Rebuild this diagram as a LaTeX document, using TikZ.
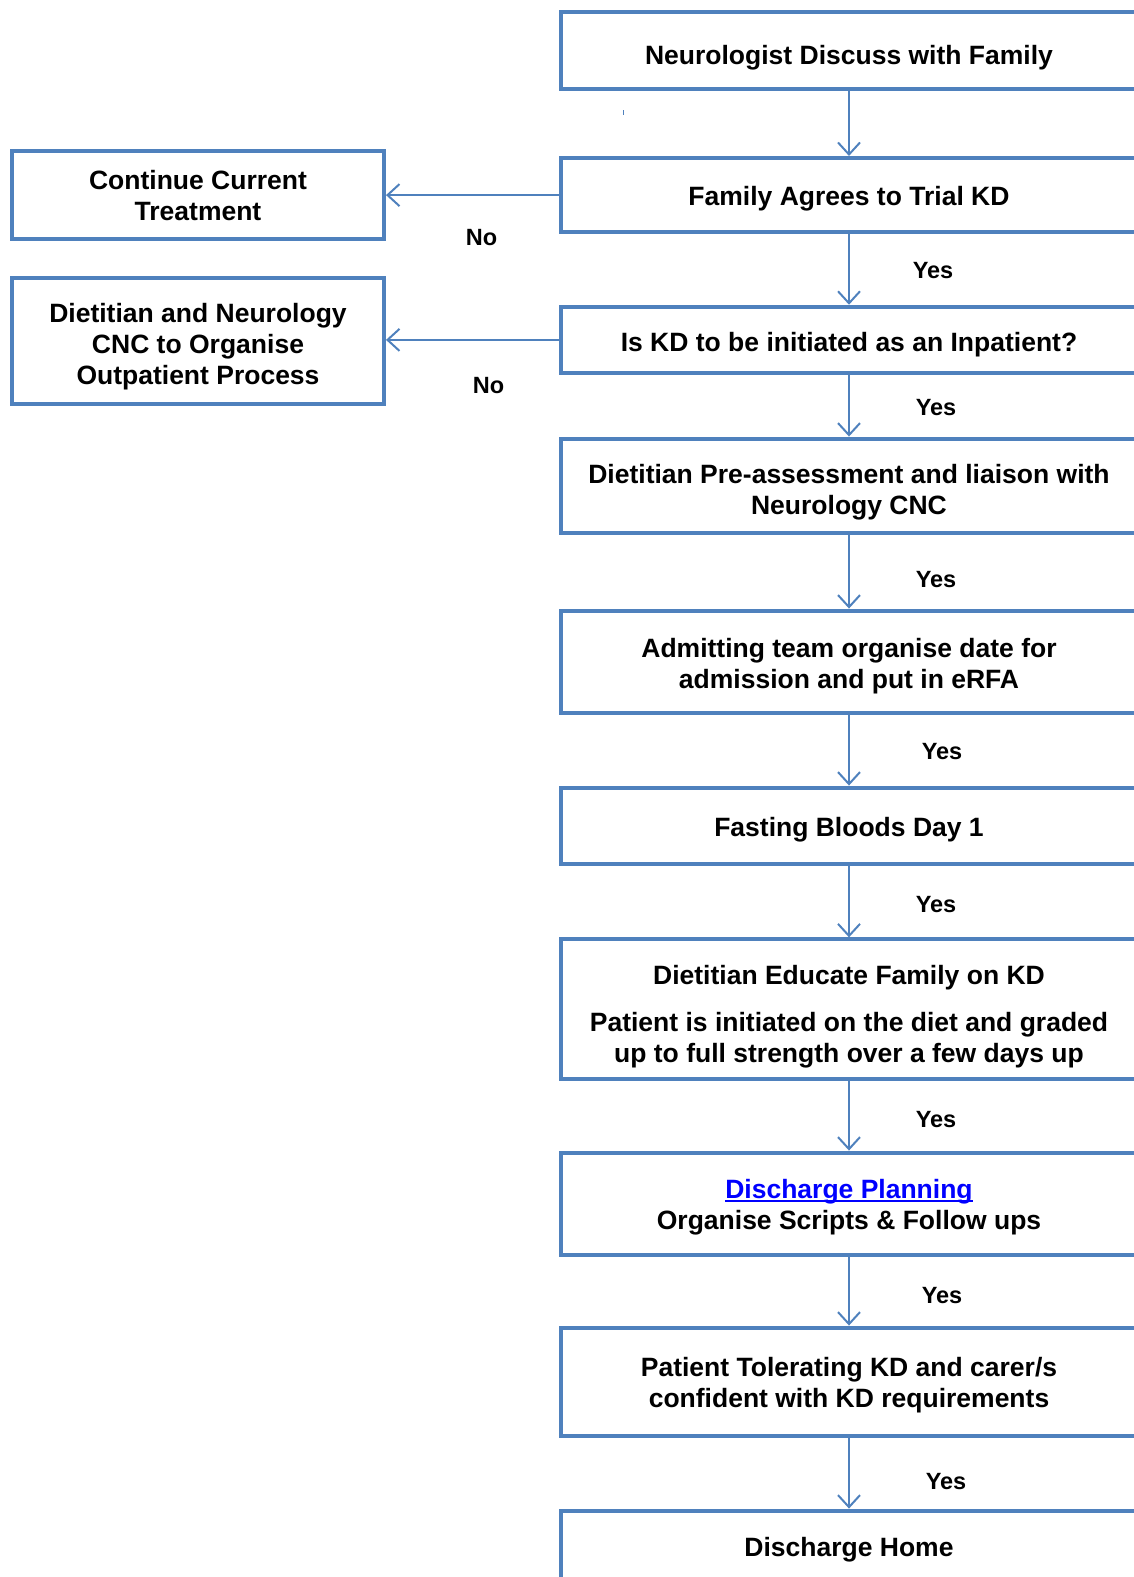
\documentclass[tikz,border=0pt]{standalone}
\usepackage{fontspec}
\setmainfont{Liberation Sans}
\usepackage{xcolor}
\definecolor{kBlue}{HTML}{4F81BD}
\definecolor{kLink}{HTML}{0000FF}
\usetikzlibrary{arrows.meta, positioning}
\newcommand{\linkul}[1]{\setbox0\hbox{#1}\rlap{\rule[-3.5pt]{\wd0}{1.8pt}}\box0}
\newcommand{\kdstrut}[1]{\rule{0pt}{#1}}

\begin{document}
\begin{tikzpicture}[
  x=1pt, y=-1pt,
  every node/.style={font=\fontsize{26.5}{31}\selectfont\bfseries},
  stagebox/.style={rectangle, draw=kBlue, line width=4pt, minimum width=576pt,
                   align=center, inner sep=0pt},
  sidebox/.style={rectangle, draw=kBlue, line width=4pt, minimum width=372pt,
                  align=center, inner sep=0pt},
  arr/.style={draw=kBlue, line width=2pt, -{Straight Barb[length=12pt, width=22pt]}},
  lbl/.style={font=\fontsize{23.5}{28}\selectfont\bfseries}
]
\useasboundingbox (0,0) rectangle (1133,1577);

% main column
\node[stagebox, minimum height=76.5pt, text height=34.6pt, text depth=5.6pt]
  (neuro) at (849,50.25) {Neurologist Discuss with Family};
\node[stagebox, minimum height=74.3pt, text height=27.3pt, text depth=5.6pt]
  (fam) at (849,195.1) {Family Agrees to Trial KD};
\node[stagebox, minimum height=66.3pt, text height=29.3pt, text depth=5.6pt]
  (inpt) at (849,339.9) {Is KD to be initiated as an Inpatient?};
\node[stagebox, minimum height=94.5pt] (pre) at (849,485.8)
  {\kdstrut{31.3pt}Dietitian Pre-assessment and liaison with\\ Neurology CNC};
\node[stagebox, minimum height=102.5pt] (adm) at (849,661.8)
  {\kdstrut{27.3pt}Admitting team organise date for\\ admission and put in eRFA};
\node[stagebox, minimum height=76.5pt, text height=27.3pt, text depth=5.6pt]
  (fast) at (849,825.8) {Fasting Bloods Day 1};
\node[stagebox, minimum height=139.7pt] (edu) at (849,1009.2)
  {\kdstrut{33.3pt}Dietitian Educate Family on KD\\[16pt]
   Patient is initiated on the diet and graded\\ up to full strength over a few days up};
\node[stagebox, minimum height=102.5pt] (plan) at (849,1203.8)
  {\kdstrut{25.3pt}\textcolor{kLink}{\linkul{Discharge Planning}}\\ Organise Scripts \& Follow ups};
\node[stagebox, minimum height=108.5pt] (tol) at (849,1381.8)
  {\kdstrut{25.3pt}Patient Tolerating KD and carer/s\\ confident with KD requirements};
\node[stagebox, minimum height=73.4pt, text height=23.3pt, text depth=5.6pt]
  (home) at (849,1547.3) {Discharge Home};

% side boxes
\node[sidebox, minimum height=88.4pt] (cont) at (198,195.2) {Continue Current\\ Treatment};
\node[sidebox, minimum height=126.7pt] (outp) at (198,341)
  {\kdstrut{31.3pt}Dietitian and Neurology\\ CNC to Organise\\ Outpatient Process};

% connectors
\draw[arr] (neuro) -- (fam);
\draw[arr] (fam) -- (inpt);
\draw[arr] (inpt) -- (pre);
\draw[arr] (pre) -- (adm);
\draw[arr] (adm) -- (fast);
\draw[arr] (fast) -- (edu);
\draw[arr] (edu) -- (plan);
\draw[arr] (plan) -- (tol);
\draw[arr] (tol) -- (home);
\draw[arr] (fam.west) -- (fam.west -| cont.east);
\draw[arr] (inpt.west) -- (inpt.west -| outp.east);

% labels
\node[lbl] (no1) at (481.5,237.3) {No};
\node[lbl] (no2) at (488.6,385.2) {No};
\node[lbl] (y1) at (933,270.5) {Yes};
\node[lbl] (y2) at (936,408) {Yes};
\node[lbl] (y3) at (936,580) {Yes};
\node[lbl] (y4) at (942,752) {Yes};
\node[lbl] (y5) at (936,905) {Yes};
\node[lbl] (y6) at (936,1120) {Yes};
\node[lbl] (y7) at (942,1296) {Yes};
\node[lbl] (y8) at (946,1482) {Yes};

\draw[kBlue, line width=1pt] (623,110) -- (623,115);
\end{tikzpicture}
\end{document}
